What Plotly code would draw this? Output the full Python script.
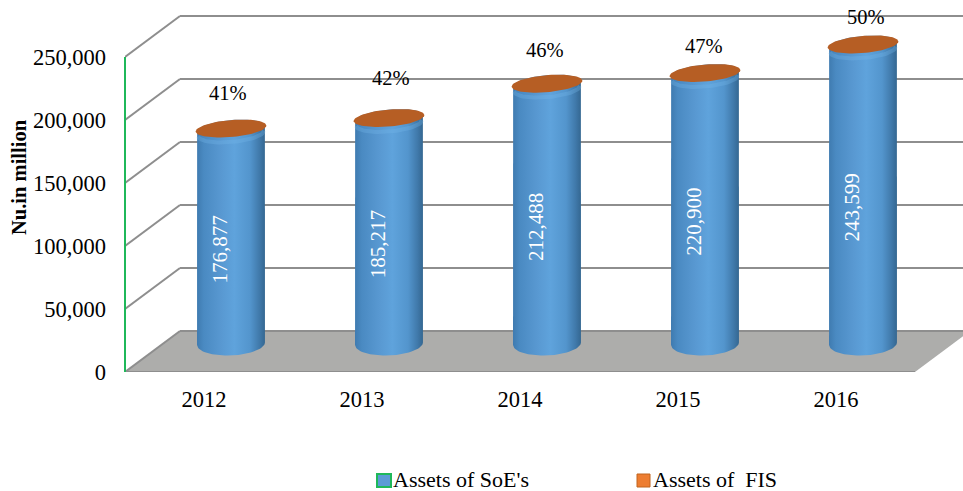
import numpy as np
import plotly.graph_objects as go

years = ["2012", "2013", "2014", "2015", "2016"]
soe_assets = [176877, 185217, 212488, 220900, 243599]
fis_share = ["41%", "42%", "46%", "47%", "50%"]
y_ticks = [0, 50000, 100000, 150000, 200000, 250000]
y_labels = ["0", "50,000", "100,000", "150,000", "200,000", "250,000"]
series_names = ["Assets of SoE's", "Assets of  FIS"]

FONT = "Liberation Serif"
W, H = 963, 491
L, BOTTOM = 125, 372
PX_X = 158.0
PX_Y = 315 / 250000
DEPTH_X, DEPTH_Y = 55, 41
GRID = "#8e8e8e"

xr = [-0.5, -0.5 + (W - L) / PX_X]
yr = [0, BOTTOM / PX_Y]


def ux(px):
    return px / PX_X


def uy(px):
    return px / PX_Y


def px_paper_x(px):
    return (px - L) / (W - L)


def px_paper_y(py):
    return (BOTTOM - py) / BOTTOM


def ellipse_pts(a, b, deg, t):
    phi = np.radians(deg)
    ex = a * np.cos(t) * np.cos(phi) - b * np.sin(t) * np.sin(phi)
    ey = a * np.cos(t) * np.sin(phi) + b * np.sin(t) * np.cos(phi)
    return ex, ey


shapes = []
shapes.append(dict(type="path", layer="below", xref="x", yref="y",
                   path=f"M -0.5 0 L 4.5 0 L {4.5+ux(DEPTH_X)} {uy(DEPTH_Y)} L {-0.5+ux(DEPTH_X)} {uy(DEPTH_Y)} Z",
                   fillcolor="#adadab", line=dict(width=0)))
for v in y_ticks:
    shapes.append(dict(type="line", layer="below", xref="x", yref="y",
                       x0=-0.5, y0=v, x1=-0.5 + ux(DEPTH_X), y1=v + uy(DEPTH_Y),
                       line=dict(color=GRID, width=2)))
    shapes.append(dict(type="line", layer="below", xref="x", yref="y",
                       x0=-0.5 + ux(DEPTH_X), y0=v + uy(DEPTH_Y), x1=xr[1], y1=v + uy(DEPTH_Y),
                       line=dict(color=GRID, width=2)))
shapes.append(dict(type="line", layer="below", xref="x", yref="y", x0=-0.5, y0=0, x1=4.5, y1=0,
                   line=dict(color="#8e8e8e", width=2)))
# green value axis line, in paper coordinates so the plot clip does not cut it
shapes.append(dict(type="line", xref="paper", yref="paper", x0=0, y0=0, x1=0, y1=y_ticks[-1] / yr[1],
                   line=dict(color="#1fb85a", width=2)))

fig = go.Figure()

CYL_DX = 27
CYL_A = 34
BOT_B = 12
BOT_DEG = 2.5
BOT_PX = 28.5
TOP_PX = 20.6
CAP_A, CAP_B, CAP_DEG = 35.5, 8.5, 5

grad = [[0, "#3f7bb0"], [0.1, "#4a8ac2"], [0.35, "#5898d1"], [0.55, "#5fa3dc"],
        [0.78, "#5395cd"], [0.92, "#4079aa"], [1, "#346791"]]

for i, v in enumerate(soe_assets):
    cx = i + ux(CYL_DX)
    top = v + uy(TOP_PX)
    bot = uy(BOT_PX)
    bx, by = ellipse_pts(CYL_A, BOT_B, BOT_DEG, np.linspace(np.pi, 2 * np.pi, 40))
    tx, ty = ellipse_pts(CYL_A, CAP_B, CAP_DEG, np.linspace(0, np.pi, 40))
    xs = np.concatenate([cx + ux(bx), cx + ux(tx)])
    ys = np.concatenate([bot + uy(by), top + uy(ty)])
    fig.add_trace(go.Scatter(x=xs, y=ys, mode="lines", fill="toself",
                             line=dict(width=0), showlegend=False, hoverinfo="skip",
                             fillgradient=dict(type="horizontal", colorscale=grad)))
    ax, ay = ellipse_pts(CYL_A - 1, CAP_B, CAP_DEG, np.linspace(np.pi, 2 * np.pi, 40))
    fig.add_trace(go.Scatter(x=cx + ux(ax), y=top + uy(ay) - uy(5), mode="lines",
                             line=dict(color="rgba(120,185,235,0.30)", width=4),
                             showlegend=False, hoverinfo="skip"))
    cxs, cys = ellipse_pts(CAP_A, CAP_B, CAP_DEG, np.linspace(0, 2 * np.pi, 80))
    fig.add_trace(go.Scatter(x=cx + ux(cxs), y=top + uy(cys), mode="lines", fill="toself",
                             fillcolor="#b65e24", line=dict(width=0),
                             showlegend=False, hoverinfo="skip"))

annotations = []
pct_shift = [(-3, 35.5), (2, 40), (-2, 33.7), (-1, 27), (3, 27)]
for i, v in enumerate(soe_assets):
    cx = i + ux(CYL_DX)
    top = v + uy(TOP_PX)
    annotations.append(dict(x=cx, y=(top + uy(BOT_PX)) / 2, xref="x", yref="y", xshift=-11, yshift=-13.5,
                            text=f"{v:,}", textangle=-90, showarrow=False,
                            font=dict(family=FONT, size=21, color="white")))
    dx, dy = pct_shift[i]
    annotations.append(dict(x=cx, y=top, xref="x", yref="y", xshift=dx, yshift=dy,
                            text=fis_share[i], showarrow=False,
                            font=dict(family=FONT, size=20.5, color="black")))

annotations.append(dict(x=px_paper_x(19), y=px_paper_y(177), xref="paper", yref="paper",
                        xanchor="center", yanchor="middle", text="<b>Nu.in million</b>",
                        textangle=-90, showarrow=False, font=dict(family=FONT, size=20.5, color="black")))

fig.update_layout(
    width=W, height=H, paper_bgcolor="white", plot_bgcolor="white",
    margin=dict(l=L, r=0, t=0, b=H - BOTTOM, autoexpand=False),
    showlegend=False, shapes=shapes, annotations=annotations,
    xaxis=dict(range=xr, tickmode="array", tickvals=list(range(5)), ticktext=years,
               showgrid=False, zeroline=False, showline=False, ticks="",
               ticklabelstandoff=11, tickfont=dict(family=FONT, size=22.5, color="black")),
    yaxis=dict(range=yr, tickmode="array", tickvals=y_ticks, ticktext=y_labels,
               showgrid=False, zeroline=False, showline=False, ticks="",
               ticklabelstandoff=18, tickfont=dict(family=FONT, size=22.5, color="black")),
)

swatches = [(377, 391, "#5b9bd5", "#1fb85a", 2), (637, 650, "#ed7d31", "#c0651f", 1)]
name_x = [392, 652]
for (x0, x1, fillc, linec, lw), nm, nx in zip(swatches, series_names, name_x):
    fig.add_shape(type="rect", xref="paper", yref="paper", x0=px_paper_x(x0), x1=px_paper_x(x1),
                  y0=px_paper_y(487), y1=px_paper_y(474), fillcolor=fillc, line=dict(color=linec, width=lw))
    fig.add_annotation(x=px_paper_x(nx), y=px_paper_y(479), xref="paper", yref="paper",
                       xanchor="left", yanchor="middle", text=nm, showarrow=False,
                       borderpad=0, height=24, valign="middle",
                       font=dict(family=FONT, size=22, color="black"))

fig.write_html("out.html", config={"displayModeBar": False},
               post_script="document.body.style.margin='0';")
